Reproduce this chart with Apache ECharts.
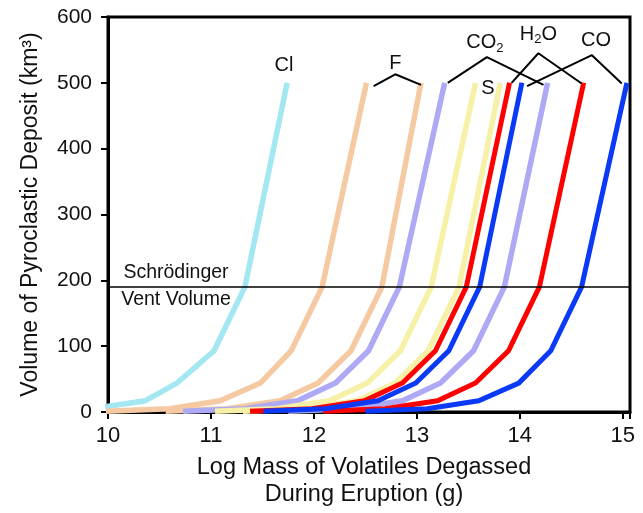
<!DOCTYPE html>
<html>
<head>
<meta charset="utf-8">
<script src="https://cdn.jsdelivr.net/npm/echarts@6/dist/echarts.min.js"></script>
<style>
	html, body { margin: 0; padding: 0; background: #fff; }
	#chart { width: 643px; height: 513px; }
</style>
</head>
<body>
<div id="chart"></div>
<script>
	// volume of pyroclastic deposit (km3) at the points of every curve
	var volumes = [1, 5, 17, 44, 93, 190, 500]
	// log mass of volatiles (g) where each curve hits those volumes
	var clX   = [9.23, 9.85, 10.36, 10.67, 11.03, 11.33, 11.74]
	var f1X   = [9.98, 10.60, 11.09, 11.48, 11.78, 12.08, 12.51]
	var f2X   = [10.56, 11.16, 11.67, 12.04, 12.36, 12.66, 13.04]
	var co2aX = [10.73, 11.33, 11.84, 12.21, 12.53, 12.83, 13.27]
	var s1X   = [11.04, 11.64, 12.15, 12.52, 12.84, 13.14, 13.57]
	var s2X   = [11.31, 11.91, 12.42, 12.79, 13.11, 13.41, 13.81]
	var h2oaX = [11.38, 11.98, 12.49, 12.86, 13.18, 13.48, 13.90]
	var coaX  = [11.51, 12.11, 12.62, 12.99, 13.31, 13.61, 14.02]
	var co2bX = [11.75, 12.35, 12.86, 13.23, 13.55, 13.85, 14.27]
	var h2obX = [12.09, 12.69, 13.20, 13.57, 13.89, 14.19, 14.62]
	var cobX  = [12.50, 13.10, 13.60, 13.99, 14.30, 14.60, 15.04]
	var xTicks = ['10', '11', '12', '13', '14', '15']
	var ventVolume = 190

	// brackets joining a label to its two curves
	var fBracket   = [[12.58, 495], [12.79, 513], [13.04, 497]]
	var co2Bracket = [[13.30, 500], [13.68, 539], [14.23, 497]]
	var h2oBracket = [[13.92, 500], [14.18, 545], [14.60, 499]]
	var coBracket  = [[14.07, 495], [14.70, 542], [14.99, 499]]
	var labels = [
		{ text: 'Cl', at: [11.71, 526] },
		{ text: 'F', at: [12.79, 529] },
		{ text: 'CO{sub|2}', at: [13.66, 561] },
		{ text: 'H{sub|2}O', at: [14.18, 574] },
		{ text: 'CO', at: [14.74, 564] },
		{ text: 'S', at: [13.69, 491] }
	]

	var colors = {
		cl: '#a3e7f2',
		f: '#f5c9a2',
		co2: '#aea9f4',
		s: '#f6f1a6',
		h2o: '#ff0000',
		co: '#0a3af5'
	}
	var font = 'Liberation Sans, Arial, sans-serif'

	function curve(xs, color, width) {
		return {
			type: 'line',
			data: volumes.map((v, i) => [xs[i], v]),
			symbol: 'none',
			lineStyle: { color: color, width: width, cap: 'butt', join: 'miter' },
			z: 2
		}
	}
	function bracket(pts) {
		return {
			type: 'line',
			data: pts,
			symbol: 'none',
			clip: false,
			lineStyle: { color: '#000', width: 2 },
			z: 3
		}
	}

	var chart = echarts.init(document.getElementById('chart'))
	var option = {
		animation: false,
		grid: {
			left: 108, right: 13, top: 17, bottom: 101,
			show: true, borderColor: '#000', borderWidth: 3, backgroundColor: 'transparent'
		},
		xAxis: {
			type: 'value', min: 10, max: 15.07, interval: 1,
			name: 'Log Mass of Volatiles Degassed\nDuring Eruption (g)',
			nameLocation: 'middle', nameGap: 42,
			nameTextStyle: { fontFamily: font, fontSize: 23.5, color: '#111', lineHeight: 27, padding: [0, 10, 0, 0] },
			axisLine: { show: true, lineStyle: { color: '#000', width: 3 } },
			axisTick: { show: true, length: 7, lineStyle: { color: '#000', width: 2 } },
			axisLabel: {
				fontFamily: font, fontSize: 22, color: '#111', margin: 13,
				formatter: (v) => xTicks.indexOf(String(v)) >= 0 ? String(v) : ''
			},
			splitLine: { show: false }
		},
		yAxis: {
			type: 'value', min: 0, max: 600, interval: 100,
			name: 'Volume of Pyroclastic Deposit (km³)',
			nameLocation: 'middle', nameGap: 66,
			nameTextStyle: { fontFamily: font, fontSize: 23, color: '#111' },
			axisLine: { show: true, lineStyle: { color: '#000', width: 3 } },
			axisTick: { show: true, length: 7, lineStyle: { color: '#000', width: 2 } },
			axisLabel: { fontFamily: font, fontSize: 21, color: '#111', margin: 16 },
			splitLine: { show: false }
		},
		series: [
			curve(clX, colors.cl, 5.5),
			curve(f1X, colors.f, 5.5),
			curve(f2X, colors.f, 5.5),
			curve(co2aX, colors.co2, 5.5),
			curve(co2bX, colors.co2, 5.5),
			curve(s1X, colors.s, 5.5),
			curve(s2X, colors.s, 5.5),
			curve(h2oaX, colors.h2o, 5),
			curve(h2obX, colors.h2o, 5),
			curve(coaX, colors.co, 5),
			curve(cobX, colors.co, 5),
			bracket(fBracket),
			bracket(co2Bracket),
			bracket(h2oBracket),
			bracket(coBracket),
			{
				type: 'line', data: [], symbol: 'none',
				markLine: {
					silent: true, symbol: 'none', label: { show: false },
					lineStyle: { color: '#000', width: 1.5, type: 'solid' },
					data: [{ yAxis: ventVolume }]
				}
			}
		]
	}
	chart.setOption(option)

	// text labels put in place once the axes exist
	var graphics = labels.map((l) => {
		var p = chart.convertToPixel({ gridIndex: 0 }, l.at)
		return {
			type: 'text', x: p[0], y: p[1], z: 10,
			style: {
				text: l.text, fill: '#111', font: '20px ' + font,
				align: 'center', verticalAlign: 'middle',
				rich: { sub: { fontSize: 13, fontFamily: font, fill: '#111', padding: [11, 0, 0, 0] } }
			}
		}
	})
	var vy = chart.convertToPixel({ gridIndex: 0 }, [10, ventVolume])[1]
	graphics.push({
		type: 'text', x: 176, y: vy - 14, z: 10,
		style: { text: 'Schrödinger', fill: '#111', font: '19.5px ' + font, align: 'center', verticalAlign: 'middle' }
	})
	graphics.push({
		type: 'text', x: 176, y: vy + 13, z: 10,
		style: { text: 'Vent Volume', fill: '#111', font: '19.5px ' + font, align: 'center', verticalAlign: 'middle' }
	})
	chart.setOption({ graphic: graphics })
</script>
</body>
</html>
